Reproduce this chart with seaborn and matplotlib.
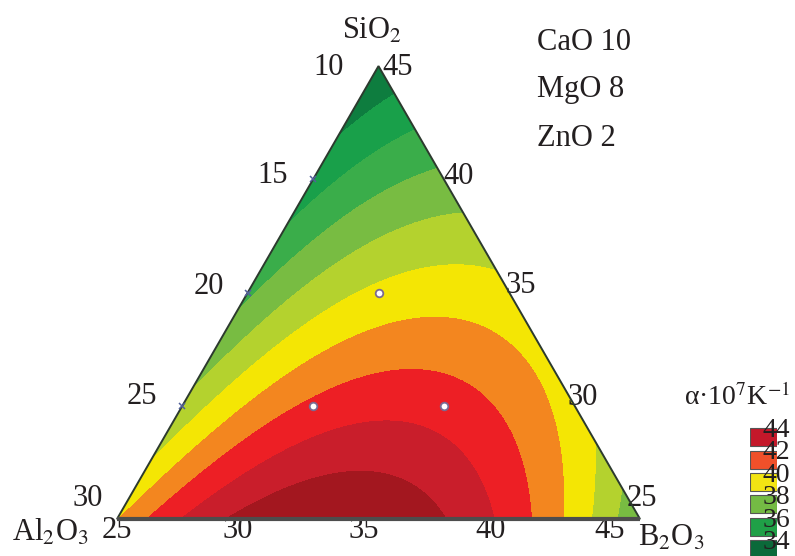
import numpy as np
import matplotlib
matplotlib.use("Agg")
import matplotlib.pyplot as plt
from matplotlib.patches import Polygon
import seaborn as sns

# composition window, mol %  (CaO 10 + MgO 8 + ZnO 2 = 20, so SiO2+Al2O3+B2O3 = 80)
sio2_ticks = [45, 40, 35, 30, 25]
al2o3_ticks = [10, 15, 20, 25, 30]
b2o3_ticks = [25, 30, 35, 40, 45]

# alpha*10^7 K^-1 at points of the diagram
pt_sio2 = [45, 25, 25, 40, 35, 30, 40, 35, 30, 25, 25, 25, 35, 30, 30, 40, 30, 31.67, 35, 30]
pt_al2o3 = [10, 30, 10, 15, 20, 25, 10, 10, 10, 25, 20, 15, 15, 20, 15, 12.5, 17.5, 16.67, 19, 24]
pt_b2o3 = [25, 25, 45, 25, 25, 25, 30, 35, 40, 30, 35, 40, 30, 30, 35, 27.5, 32.5, 31.67, 26, 26]
pt_alpha = [34.2, 40.0, 37.0, 35.5, 36.7, 38.0, 37.4, 39.2, 39.5, 43.3, 43.8, 41.7,
            39.3, 41.5, 41.5, 36.4, 41.5, 40.8, 37.7, 39.1]

# measured glasses (white dots)
dot_sio2 = [35, 30, 30]
dot_al2o3 = [15, 20, 15]
dot_b2o3 = [30, 30, 35]

# contour bands and legend
levels = [30, 35, 36, 37, 38, 39, 40, 41, 42, 43, 50]
band_colors = ['#0e7d3f', '#19a04a', '#3aad4a', '#78bc42', '#b4d22e',
               '#f4e604', '#f3861f', '#ed1f25', '#c91e2b', '#a3171f']
legend_values = [44, 42, 40, 38, 36, 34]
legend_colors = ['#c4182a', '#f0502a', '#f2e413', '#74bb44', '#1fa047', '#0b6a3a']

H = np.sqrt(3) / 2


def pseudo(si, al, b):
    si, al, b = np.asarray(si, float), np.asarray(al, float), np.asarray(b, float)
    return (si - 25) / 20, (al - 10) / 20, (b - 25) / 20


def to_xy(si, al, b):
    s, a, bb = pseudo(si, al, b)
    return bb + s / 2, s * H


def terms(s, a, b):
    # full cubic Scheffe mixture model
    return np.stack([s, a, b, s * a, s * b, a * b,
                     s * a * (s - a), s * b * (s - b), a * b * (a - b), s * a * b], axis=-1)


s_, a_, b_ = pseudo(pt_sio2, pt_al2o3, pt_b2o3)
coef, *_ = np.linalg.lstsq(terms(s_, a_, b_), np.array(pt_alpha), rcond=None)

X, Y = np.meshgrid(np.linspace(-0.01, 1.01, 500), np.linspace(-0.01, H + 0.01, 450))
gs = Y / H
gb = X - gs / 2
ga = 1 - gs - gb
Z = terms(gs, ga, gb) @ coef

sns.set_theme(style="white")
plt.rcParams['font.family'] = ['Liberation Serif', 'DejaVu Serif']
plt.rcParams['mathtext.fontset'] = 'stix'

fig = plt.figure(figsize=(7.95, 5.56), dpi=100)
ax = fig.add_axes([0, 0, 1, 1])
ax.set_xlim(-117 / 523, (795 - 117) / 523)
ax.set_ylim(-37 / 523, 519 / 523)
ax.axis('off')

cs = ax.contourf(X, Y, Z, levels=levels, colors=sns.color_palette(band_colors))
tri = Polygon([[0, 0], [1, 0], [0.5, H]], closed=True, fill=False,
              edgecolor='#2c3a2e', lw=1.4, zorder=4)
ax.add_patch(tri)
cs.set_clip_path(tri)
ax.plot([0, 1], [0, 0], color='#4d4d4d', lw=3, zorder=4, solid_capstyle='butt')

dx, dy = to_xy(dot_sio2, dot_al2o3, dot_b2o3)
sns.scatterplot(x=dx, y=dy, ax=ax, s=30, color='white', edgecolor='#7a6a92',
                linewidth=1.3, zorder=6, legend=False)

# small marks on the Al2O3 side
mx, my = to_xy([55 - v for v in al2o3_ticks[1:4]], al2o3_ticks[1:4], [25] * 3)
ax.plot(mx, my, ls='none', marker='x', ms=5, mew=1.1, color='#52609a', zorder=5)

fs = 22
ink = '#231f20'
left_off = [(-35, -1), (-25, 4), (-24, 6), (-25, 9), (-14, 20)]
for v, off in zip(al2o3_ticks, left_off):
    ax.annotate(str(v), to_xy(55 - v, v, 25), xytext=off, textcoords='offset pixels',
                ha='right', va='center', fontsize=fs, color=ink)
right_off = [(4, -1), (-1, 3), (-4, 7), (-7, 8), (-13, 21)]
for v, off in zip(sio2_ticks, right_off):
    ax.annotate(str(v), to_xy(v, 10, 70 - v), xytext=off, textcoords='offset pixels',
                ha='left', va='center', fontsize=fs, color=ink)
bottom_off = [(0, -12), (-10, -12), (-15, -12), (-19, -12), (-30, -12)]
for v, off in zip(b2o3_ticks, bottom_off):
    ax.annotate(str(v), to_xy(25, 55 - v, v), xytext=off, textcoords='offset pixels',
                ha='center', va='center', fontsize=fs, color=ink)

fig.text(372 / 795, 1 - 31 / 556, 'SiO$_2$', ha='center', va='center', fontsize=fs, color=ink)
fig.text(50 / 795, 1 - 533 / 556, 'Al$_2$O$_3$', ha='center', va='center', fontsize=fs, color=ink)
fig.text(671 / 795, 1 - 538 / 556, 'B$_2$O$_3$', ha='center', va='center', fontsize=fs, color=ink)
for i, t in enumerate(['CaO 10', 'MgO 8', 'ZnO 2']):
    fig.text(537 / 795, 1 - (42 + 48 * i) / 556, t, ha='left', va='center', fontsize=fs, color=ink)

# legend boxes
fig.text(790 / 795, 1 - 397 / 556, 'α·10$^7$K$^{-1}$', ha='right', va='center',
         fontsize=20, color=ink)
cax = fig.add_axes([750 / 795, -4.4 / 556, 27 / 795, 134.4 / 556])
n = len(legend_values)
cax.barh([n - 0.5 - i for i in range(n)], [1] * n, height=0.8, color=legend_colors,
         edgecolor='#555555', linewidth=0.8)
cax.set_xlim(0, 1)
cax.set_ylim(0, n)
cax.axis('off')
for i, v in enumerate(legend_values):
    cax.text(1.48, n - i - 0.2, str(v), ha='right', va='center', fontsize=20,
             color=ink, clip_on=False)

fig.savefig('out.png', dpi=100)
